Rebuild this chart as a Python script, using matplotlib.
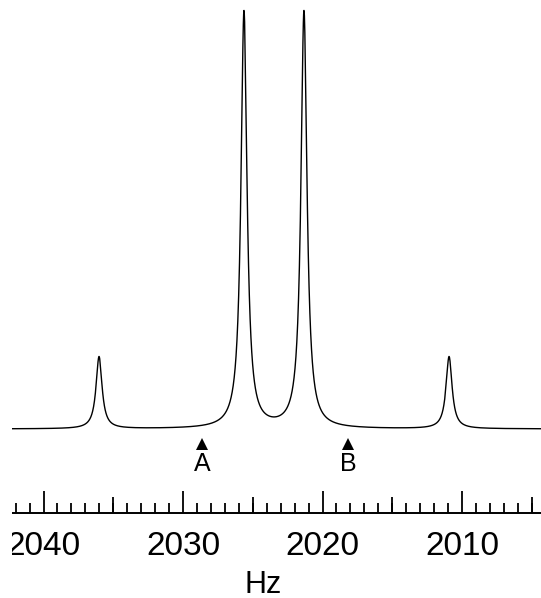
#!/usr/bin/env python3
"""AB quartet spectrum with chemical shift markers."""
import matplotlib
matplotlib.use("Agg")
import matplotlib.pyplot as plt
import numpy as np
from matplotlib.patches import Rectangle
from matplotlib.ticker import MultipleLocator

# line positions (Hz), relative heights and half-width at half-height (Hz)
PEAK_HZ = [2036.02, 2025.63, 2021.33, 2010.93]
PEAK_HEIGHT = [0.173, 1.0, 1.0, 0.173]
HALF_WIDTH = 0.26

# chemical shifts of A and B
SHIFT_LABELS = ["A", "B"]
SHIFT_HZ = [2028.64, 2018.17]

MAJOR_TICKS = [2040, 2030, 2020, 2010]
MID_TICKS = [2035, 2025, 2015, 2005]

plt.rcParams["font.family"] = ["Liberation Sans", "DejaVu Sans"]

hz = np.linspace(2003.0, 2044.0, 20000)
spectrum = np.zeros_like(hz)
for center, height in zip(PEAK_HZ, PEAK_HEIGHT):
    spectrum += height * HALF_WIDTH**2 / (HALF_WIDTH**2 + (hz - center) ** 2)

fig = plt.figure(figsize=(5.41, 5.98), dpi=100)
ax = fig.add_axes([12 / 541, 85 / 598, 529 / 541, 513 / 598])
ax.plot(hz, spectrum, color="black", lw=1.0)

for label, pos in zip(SHIFT_LABELS, SHIFT_HZ):
    ax.plot(pos, -0.036, marker="^", color="black", ms=9, mew=0)
    ax.text(pos, -0.085, label, ha="center", va="center", fontsize=18)

ax.set_xlim(2042.26, 2004.34)
ax.set_ylim(-0.2014, 1.0288)

for side in ("top", "left", "right"):
    ax.spines[side].set_visible(False)
ax.spines["bottom"].set_linewidth(1.4)
ax.set_yticks([])

ax.set_xticks(MAJOR_TICKS)
ax.xaxis.set_minor_locator(MultipleLocator(1))
ax.tick_params(axis="x", which="major", direction="in", length=15.8, width=1.3,
               labelsize=24, pad=13)
ax.tick_params(axis="x", which="minor", direction="in", length=7.2, width=1.3)

sec = ax.secondary_xaxis("bottom")
sec.set_xticks(MID_TICKS)
sec.tick_params(direction="in", length=11.5, width=1.3, labelbottom=False)
sec.spines["bottom"].set_visible(False)

ax.set_xlabel("Hz", fontsize=22)
ax.xaxis.set_label_coords(251 / 529, -57 / 513)

# the original picture is cropped at its left edge
fig.patches.append(Rectangle((0, 0), 12 / 541, 1, transform=fig.transFigure,
                             facecolor="white", edgecolor="none", zorder=10))

fig.savefig("out.png", dpi=100)
